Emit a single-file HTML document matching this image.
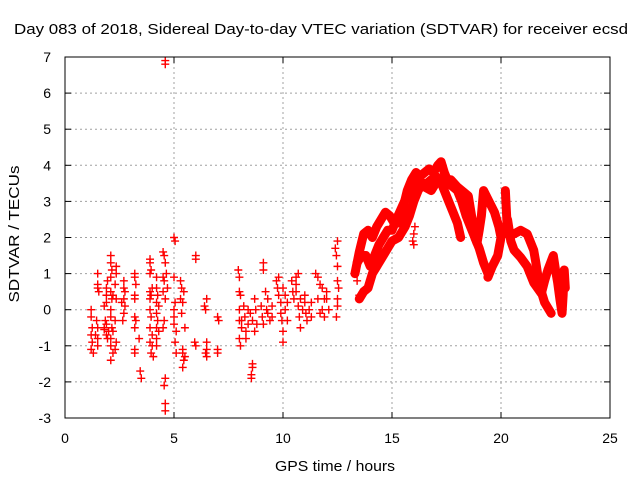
<!DOCTYPE html>
<html><head><meta charset="utf-8"><style>
body{margin:0;background:#fff}
svg{display:block;font-family:"Liberation Sans",sans-serif}
</style></head><body>
<svg id="chart" width="640" height="480">
<text x="321" y="34" text-anchor="middle" font-size="15" textLength="614" lengthAdjust="spacingAndGlyphs">Day 083 of 2018, Sidereal Day-to-day VTEC variation (SDTVAR) for receiver ecsd</text>
<text transform="translate(19,234) rotate(-90)" text-anchor="middle" font-size="15" textLength="137" lengthAdjust="spacingAndGlyphs">SDTVAR / TECUs</text>
<text x="335" y="471" text-anchor="middle" font-size="15" textLength="120" lengthAdjust="spacingAndGlyphs">GPS time / hours</text>
<g id="grid"></g><g id="marks"></g>
<rect x="65" y="57" width="545" height="361" fill="none" stroke="#000" stroke-width="1"/>
</svg>
<script>
const xTicks=[0,5,10,15,20,25];
const yTicks=[-3,-2,-1,0,1,2,3,4,5,6,7];
const scatterPts=[[1.2,0],[1.2,-0.2],[1.25,-0.5],[1.2,-0.7],[1.25,-0.9],[1.2,-1.1],[1.3,-1.2],[1.5,1.0],[1.5,0.7],[1.5,0.6],[1.55,0.5],[1.45,-0.3],[1.5,-0.5],[1.5,-0.8],[1.5,-1.0],[1.4,-0.7],
[1.8,0.1],[1.85,-0.3],[1.8,-0.5],[1.9,0.2],[1.9,0.4],[1.9,0.6],[1.95,0.8],[1.9,-0.4],[2.0,-0.6],[1.95,-0.8],[1.8,-0.55],[1.9,-0.7],
[2.1,1.5],[2.1,1.3],[2.15,1.1],[2.1,0.9],[2.1,0.5],[2.15,0.3],[2.1,0],[2.1,-0.2],[2.15,-0.5],[2.1,-0.8],[2.1,-1.0],[2.2,-1.2],[2.1,-1.4],[2.35,1.2],[2.35,1.0],[2.3,0.7],[2.35,0.3],[2.3,-0.3],[2.35,-0.9],[2.3,-1.1],[2.2,0.4],[2.2,-0.6],
[2.7,0.8],[2.7,0.6],[2.7,0.3],[2.75,0.1],[2.7,-0.1],[2.65,-0.3],[2.75,0.5],[2.6,0.2],
[3.2,1.0],[3.2,0.9],[3.25,0.7],[3.2,0.4],[3.2,0.3],[3.2,-0.2],[3.25,-0.3],[3.2,-0.5],[3.2,-1.1],[3.2,-1.2],[3.4,-0.8],[3.45,-1.7],[3.5,-1.9],
[3.9,1.4],[3.9,1.3],[3.95,1.1],[3.9,1.0],[3.9,0.5],[3.95,0.4],[3.9,0.3],[3.9,0.0],[3.95,-0.2],[3.9,-0.5],[3.9,-0.9],[4.0,0.6],[4.0,-0.7],[4.0,-1.0],[3.95,-1.2],[4.05,-1.3],
[4.2,0.9],[4.2,0.6],[4.25,0.4],[4.2,0.2],[4.2,-0.1],[4.25,-0.3],[4.2,-0.5],[4.2,-0.8],[4.2,-1.0],[4.3,-0.6],[4.3,0.1],
[4.5,1.6],[4.55,1.5],[4.6,1.3],[4.5,0.9],[4.55,0.8],[4.5,0.5],[4.6,0.3],[4.55,-0.3],[4.5,-0.5],[4.6,-1.9],[4.55,-2.1],[4.6,6.9],[4.6,6.8],[4.6,-2.6],[4.6,-2.8],[4.65,1.0],[4.7,0.6],
[5.0,2.0],[5.05,1.9],[5.0,0.9],[5.05,0.2],[5.0,0.0],[5.0,-0.2],[5.1,-0.6],[5.05,-0.9],[5.1,-1.2],[5.0,-0.4],
[5.3,0.8],[5.35,0.6],[5.3,0.3],[5.4,0.2],[5.4,-1.2],[5.45,-1.4],[5.4,-1.6],[5.5,-1.3],[5.5,-0.5],[5.45,0.5],[5.35,-0.1],[5.4,-1.1],
[6.0,1.5],[6.0,1.4],[5.95,-0.9],[6.0,-1.0],
[6.4,0.1],[6.5,0.3],[6.45,0.0],[6.5,-0.9],[6.45,-1.2],[6.5,-1.3],[6.5,-1.1],
[7.0,-0.2],[7.05,-0.3],[7.0,-1.1],[7.0,-1.2],
[7.95,1.1],[8.0,0.9],[8.0,0.5],[8.05,0.4],[8.0,0],[8.0,-0.3],[8.1,-0.5],[8.0,-0.8],[8.05,-1.0],[8.2,0.1],[8.25,-0.2],[8.3,-0.6],[8.1,-0.3],[8.4,-0.4],[8.4,0.0],[8.3,-0.8],
[8.6,-1.5],[8.6,-1.6],[8.55,-1.8],[8.55,-1.9],[8.6,-0.3],[8.7,-0.6],[8.75,0.0],[8.7,0.3],[8.5,-0.1],[8.8,-0.4],
[9.0,0.1],[9.05,-0.2],[9.1,1.3],[9.1,1.1],[9.2,0.5],[9.3,0.3],[9.25,0.0],[9.4,-0.3],[9.5,-0.2],[9.5,0.1],[9.1,-0.4],[9.3,-0.1],
[9.7,0.8],[9.75,0.6],[9.8,0.4],[9.9,0.2],[9.9,-0.1],[9.95,-0.3],[10.0,-0.6],[10.0,-0.9],[9.8,0.9],[10.0,0.6],[10.1,0.4],[10.2,0.2],[10.1,0.0],[10.2,-0.3],
[10.4,0.8],[10.45,0.5],[10.5,0.3],[10.6,0.5],[10.6,0.9],[10.7,1.0],[10.7,0.1],[10.75,-0.2],[10.8,-0.5],[10.9,0.0],[10.6,0.7],[10.8,0.3],
[11.0,0.2],[11.05,-0.1],[11.1,-0.3],[11.0,0.4],[11.2,0.0],[11.3,-0.2],[11.3,0.2],
[11.5,1.0],[11.6,0.9],[11.7,0.7],[11.8,0.6],[11.9,0.3],[11.8,0.0],[11.9,-0.2],[12.0,0.3],[12.0,0.5],[12.1,0.0],[11.6,0.3],[11.7,-0.1],
[12.4,1.7],[12.5,1.9],[12.45,1.5],[12.5,1.2],[12.5,0.8],[12.55,0.6],[12.5,0.3],[12.5,0.1],[12.45,-0.2]];
const strandA=[[13.3,1.0],[13.5,1.6],[13.7,2.1],[13.9,2.2],[14.1,2.0],[14.3,2.3],[14.5,2.5],[14.7,2.7],[14.9,2.6],[15.1,2.4],[15.3,2.4],[15.5,2.8],[15.7,3.3],[15.9,3.6],[16.1,3.8],[16.3,3.7],[16.5,3.8],[16.7,3.9],[16.9,3.8],[17.1,4.0],[17.25,4.1],[17.4,3.8],[17.6,3.5],[17.8,3.4],[18.0,3.3],[18.2,3.0],[18.4,2.6],[18.6,2.3],[18.8,2.0],[19.0,1.7],[19.2,1.3],[19.4,1.0]];
const strandB=[[13.5,0.3],[13.7,0.5],[13.9,0.6],[14.1,1.0],[14.3,1.2],[14.5,1.4],[14.8,1.7],[15.0,1.9],[15.3,2.0],[15.6,2.3],[15.8,2.6],[16.0,3.0],[16.2,3.3],[16.4,3.5],[16.6,3.5],[16.8,3.6],[17.0,3.7],[17.2,3.6],[17.4,3.3],[17.6,3.0],[17.8,2.7],[18.0,2.4],[18.15,2.0]];
const strandC=[[13.4,1.3],[13.6,1.5],[13.8,1.5],[14.0,1.2],[14.2,1.5],[14.4,1.8],[14.6,2.0],[14.8,2.2],[15.0,2.2],[15.2,2.5],[15.5,2.9],[15.8,3.3],[16.0,3.5],[16.2,3.6],[16.5,3.4],[16.8,3.3],[17.1,3.6],[17.4,3.6],[17.7,3.6],[18.0,3.4],[18.3,3.25],[18.5,3.15],[18.65,2.6],[18.8,2.0],[18.9,1.85],[19.0,2.2],[19.1,2.6],[19.2,3.3],[19.45,3.0],[19.7,2.7],[19.9,2.3],[20.0,2.0],[19.85,1.5],[19.6,1.2],[19.4,0.9]];
const strandD=[[20.2,3.3],[20.25,2.7],[20.3,2.1],[20.6,2.1],[20.9,2.2],[21.2,2.1],[21.5,1.65],[21.6,1.3],[21.7,0.9],[21.85,0.5],[22.0,0.2],[22.3,-0.1]];
const strandE=[[20.3,2.5],[20.45,1.9],[20.6,1.65],[20.9,1.45],[21.2,1.2],[21.5,0.75],[21.85,0.45],[22.0,0.8],[22.15,1.1],[22.4,1.5],[22.5,1.1],[22.6,0.75],[22.7,0.3],[22.8,-0.1],[22.85,0.4],[22.9,1.1],[22.95,0.6]];
const spikePts=[[15.95,1.9],[16.0,1.8],[16.0,2.1],[13.5,0.4],[13.4,0.8],[16.05,2.3]];
const strands=[strandA,strandB,strandC,strandD,strandE];

const L=65,R=610,T=57,B=418;
const xs=h=>L+(h-0)/(25-0)*(R-L);
const ys=v=>B-(v-(-3))/(7-(-3))*(B-T);
const NS='http://www.w3.org/2000/svg';
const grid=document.getElementById('grid'),marks=document.getElementById('marks');
function mk(tag,attrs,parent){const e=document.createElementNS(NS,tag);for(const k in attrs)e.setAttribute(k,attrs[k]);parent.appendChild(e);return e;}
xTicks.forEach(t=>{
  const x=xs(t);
  if(t>0&&t<25){const g=mk('line',{x1:x,x2:x,y1:T,y2:B,stroke:'#a0a0a0','stroke-dasharray':'2,3'},grid);
  
  }
  mk('line',{x1:x,x2:x,y1:B,y2:B-6,stroke:'#000'},grid);
  mk('line',{x1:x,x2:x,y1:T,y2:T+6,stroke:'#000'},grid);
  const tx=mk('text',{x:x,y:B+25,'text-anchor':'middle','font-size':'14'},grid);tx.textContent=t;
  
  
});
yTicks.forEach(t=>{
  const y=ys(t);
  if(t>-3&&t<7){const g=mk('line',{x1:L,x2:R,y1:y,y2:y,stroke:'#a0a0a0','stroke-dasharray':'2,3'},grid);
  
  }
  mk('line',{x1:L,x2:L+6,y1:y,y2:y,stroke:'#000'},grid);
  mk('line',{x1:R,x2:R-6,y1:y,y2:y,stroke:'#000'},grid);
  const tx=mk('text',{x:L-14,y:y+5,'text-anchor':'end','font-size':'14'},grid);tx.textContent=t;
  
  
});
strands.forEach(s=>{
  const p=mk('polyline',{points:s.map(d=>xs(d[0])+','+ys(d[1])).join(' '),fill:'none',stroke:'#f00','stroke-width':'9','stroke-linejoin':'round','stroke-linecap':'round'},marks);
  
  
});
function plus(h,v){
  const x=xs(h),y=ys(v);
  const p=mk('path',{d:`M${x-4},${y}h8M${x},${y-4}v8`,stroke:'#f00','stroke-width':'1.4',fill:'none'},marks);
  
  
}
scatterPts.forEach(d=>plus(d[0],d[1]));
spikePts.forEach(d=>plus(d[0],d[1]));
strands.forEach(s=>s.forEach(d=>plus(d[0],d[1])));
</script>
</body></html>
